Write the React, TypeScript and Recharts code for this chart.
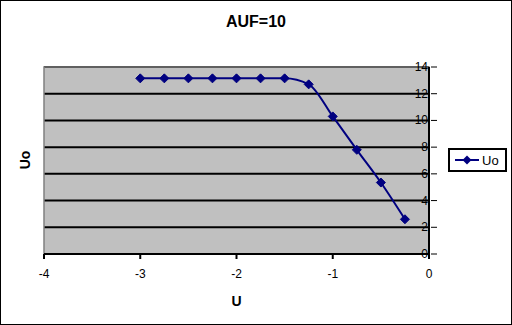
import React from "react";
import { LineChart, Line, XAxis, YAxis, CartesianGrid, ReferenceArea, Label } from "recharts";

const uValues = [-3, -2.75, -2.5, -2.25, -2, -1.75, -1.5, -1.25, -1, -0.75, -0.5, -0.25];
const uoValues = [13.15, 13.15, 13.15, 13.15, 13.15, 13.15, 13.15, 12.7, 10.3, 7.8, 5.35, 2.6];
const xTicks = [-4, -3, -2, -1, 0];
const yTicks = [0, 2, 4, 6, 8, 10, 12, 14];
const seriesName = "Uo";
const title = "AUF=10";
const xTitle = "U";
const yTitle = "Uo";

const data = uValues.map((u, i) => ({ u, uo: uoValues[i] }));

const NAVY = "#000080";
const FONT = "'Liberation Sans', Arial, sans-serif";

const Diamond = (props: any) => {
  const { cx, cy } = props;
  if (cx == null || cy == null) return null;
  const r = 4.5;
  return (
    <polygon
      points={`${cx},${cy - r} ${cx + r},${cy} ${cx},${cy + r} ${cx - r},${cy}`}
      fill={NAVY}
      stroke={NAVY}
    />
  );
};

const YTick = (props: any) => {
  const { x, y, payload } = props;
  return (
    <g>
      <line x1={x - 6} x2={x} y1={y} y2={y} stroke="#000" strokeWidth={1} />
      <text x={x - 9} y={y} dy={4} textAnchor="end" fontSize={12} fill="#000" fontFamily={FONT}>
        {payload.value}
      </text>
    </g>
  );
};

export default function App() {
  return (
    <div style={{ position: "fixed", left: 0, top: 0, width: 512, height: 325, background: "#fff", fontFamily: FONT }}>
      <div style={{ position: "absolute", left: 0, top: 0, width: 512, height: 325, boxSizing: "border-box", border: "1.5px solid #000", zIndex: 2, pointerEvents: "none" }} />
      <div style={{ position: "absolute", left: 0, top: 13, width: 512, textAlign: "center", fontWeight: "bold", fontSize: 16, color: "#000" }}>
        {title}
      </div>
      <LineChart width={512} height={325} data={data} margin={{ top: 67, right: 82, bottom: 51, left: 44 }}>
        <CartesianGrid horizontal vertical={false} stroke="#000" strokeWidth={2} fill="#C0C0C0" fillOpacity={1} />
        <ReferenceArea x1={-4} x2={0} y1={0} y2={14} fill="none" stroke="#808080" strokeWidth={1.5} ifOverflow="visible" />
        <XAxis
          dataKey="u"
          type="number"
          domain={[-4, 0]}
          ticks={xTicks}
          height={20}
          stroke="#000"
          strokeWidth={2}
          tickSize={5}
          tick={{ fill: "#000", fontSize: 12, fontFamily: FONT }}
          tickMargin={10}
        >
          <Label value={xTitle} position="bottom" offset={22} style={{ fontWeight: "bold", fontSize: 14, fill: "#000", fontFamily: FONT }} />
        </XAxis>
        <YAxis
          type="number"
          orientation="right"
          domain={[0, 14]}
          ticks={yTicks}
          width={1}
          stroke="#000"
          strokeWidth={2}
          tickLine={false}
          tick={<YTick />}
          interval={0}
        />
        <Line
          type="monotone"
          dataKey="uo"
          name={seriesName}
          stroke={NAVY}
          strokeWidth={2}
          dot={<Diamond />}
          isAnimationActive={false}
        />
      </LineChart>
      <div style={{ position: "absolute", left: 25, top: 160, transform: "translate(-50%, -50%) rotate(-90deg)", fontWeight: "bold", fontSize: 14, color: "#000" }}>
        {yTitle}
      </div>
      <div style={{ position: "absolute", left: 448, top: 148, width: 59, height: 24, boxSizing: "border-box", border: "2px solid #000", display: "flex", alignItems: "center", background: "#fff" }}>
        <svg width={32} height={20} style={{ display: "block" }}>
          <line x1={5} x2={29} y1={10} y2={10} stroke={NAVY} strokeWidth={2} />
          <polygon points="17,5.5 21.5,10 17,14.5 12.5,10" fill={NAVY} />
        </svg>
        <span style={{ fontSize: 13, color: "#000" }}>{seriesName}</span>
      </div>
    </div>
  );
}
